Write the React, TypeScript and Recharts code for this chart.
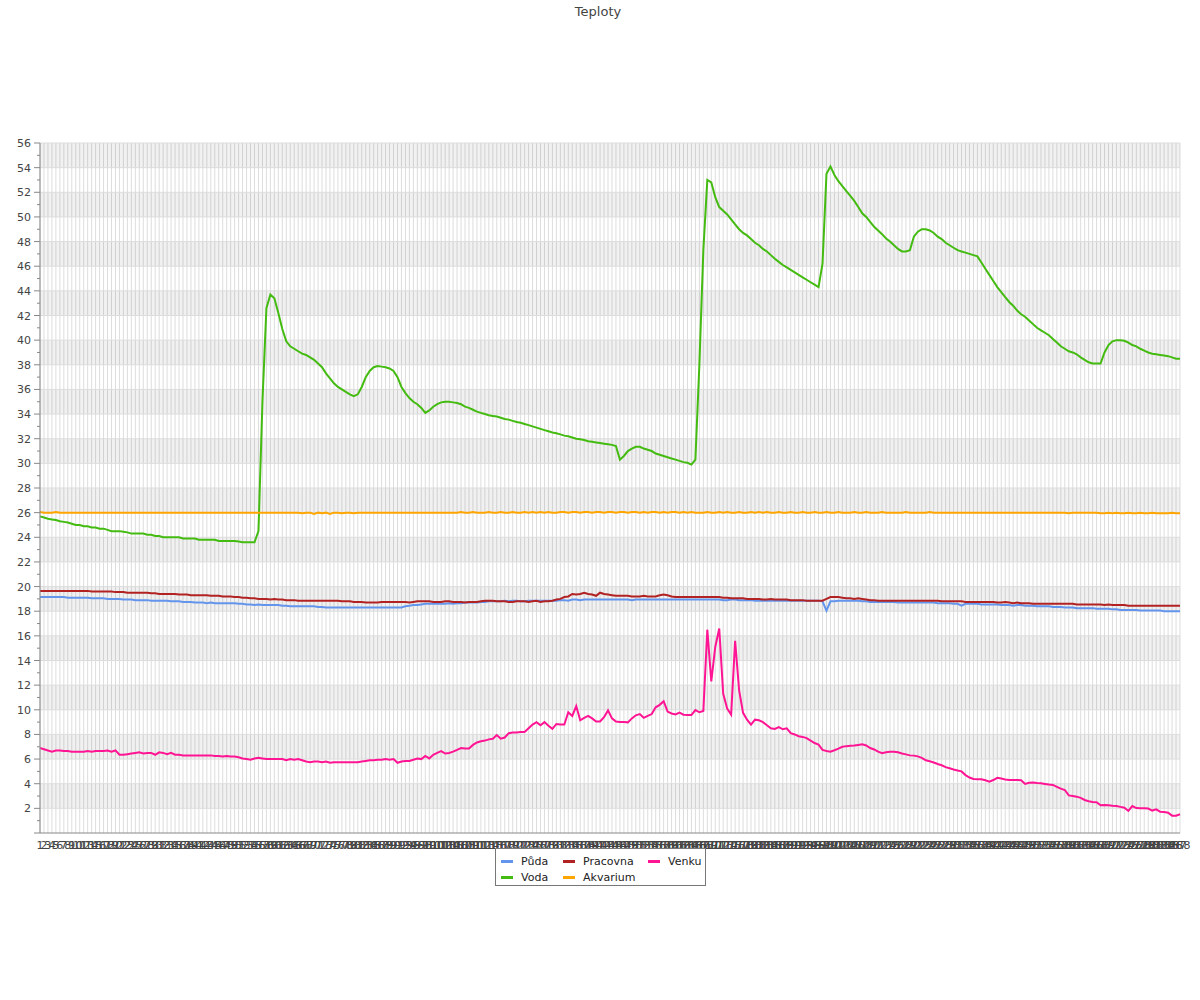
import React from 'react';
import { LineChart, Line, XAxis, YAxis, CartesianGrid, ReferenceArea, ReferenceLine } from 'recharts';

// 288 measurements (every 5 minutes of one day)
const categories: string[] = Array.from({ length: 288 }, (_, i) => String(i + 1));

const puda: number[] = [
  19.15, 19.15, 19.15, 19.15, 19.15, 19.15, 19.15, 19.1, 19.1, 19.1, 19.1, 19.1,
  19.1, 19.05, 19.05, 19.05, 19.05, 19.0, 19.0, 19.0, 19.0, 18.95, 18.95, 18.95,
  18.9, 18.9, 18.9, 18.9, 18.85, 18.85, 18.85, 18.85, 18.85, 18.8, 18.8, 18.8,
  18.75, 18.75, 18.75, 18.7, 18.7, 18.7, 18.65, 18.7, 18.65, 18.65, 18.65, 18.65,
  18.65, 18.65, 18.6, 18.6, 18.55, 18.55, 18.5, 18.55, 18.5, 18.5, 18.5, 18.5,
  18.5, 18.45, 18.45, 18.4, 18.4, 18.4, 18.4, 18.4, 18.4, 18.4, 18.35, 18.35,
  18.3, 18.3, 18.3, 18.3, 18.3, 18.3, 18.3, 18.3, 18.3, 18.3, 18.3, 18.3,
  18.3, 18.3, 18.3, 18.3, 18.3, 18.3, 18.3, 18.3, 18.4, 18.45, 18.5, 18.5,
  18.55, 18.6, 18.6, 18.6, 18.6, 18.6, 18.6, 18.65, 18.6, 18.65, 18.65, 18.7,
  18.7, 18.7, 18.7, 18.75, 18.75, 18.8, 18.8, 18.8, 18.8, 18.85, 18.8, 18.85,
  18.85, 18.8, 18.8, 18.85, 18.85, 18.85, 18.85, 18.85, 18.85, 18.85, 18.85, 18.9,
  18.9, 18.85, 18.95, 18.95, 18.9, 18.95, 18.95, 18.95, 18.95, 18.95, 18.95, 18.95,
  18.95, 18.95, 18.95, 18.95, 18.95, 18.9, 18.95, 18.95, 18.95, 18.95, 18.95, 18.95,
  18.95, 18.95, 18.95, 18.95, 18.95, 18.95, 18.95, 18.95, 18.95, 18.95, 18.95, 18.95,
  18.95, 18.95, 18.95, 18.95, 18.9, 18.9, 18.95, 18.95, 18.9, 18.9, 18.9, 18.9,
  18.85, 18.85, 18.85, 18.85, 18.85, 18.85, 18.85, 18.85, 18.85, 18.85, 18.85, 18.85,
  18.85, 18.85, 18.85, 18.85, 18.85, 18.8, 18.05, 18.8, 18.8, 18.85, 18.85, 18.85,
  18.85, 18.85, 18.85, 18.8, 18.8, 18.75, 18.75, 18.75, 18.75, 18.75, 18.75, 18.75,
  18.7, 18.7, 18.7, 18.7, 18.7, 18.7, 18.7, 18.7, 18.7, 18.7, 18.65, 18.65,
  18.65, 18.65, 18.6, 18.6, 18.45, 18.6, 18.6, 18.6, 18.6, 18.55, 18.55, 18.55,
  18.55, 18.55, 18.5, 18.5, 18.5, 18.45, 18.5, 18.5, 18.45, 18.45, 18.45, 18.4,
  18.4, 18.4, 18.4, 18.35, 18.35, 18.35, 18.3, 18.3, 18.3, 18.25, 18.25, 18.25,
  18.25, 18.25, 18.2, 18.2, 18.2, 18.2, 18.15, 18.15, 18.1, 18.1, 18.1, 18.1,
  18.1, 18.05, 18.05, 18.05, 18.05, 18.05, 18.05, 18.0, 18.0, 18.0, 18.0, 18.0,
];

const voda: number[] = [
  25.7, 25.6, 25.5, 25.45, 25.4, 25.3, 25.25, 25.2, 25.1, 25.0, 25.0, 24.9,
  24.9, 24.8, 24.8, 24.7, 24.7, 24.6, 24.5, 24.5, 24.5, 24.45, 24.4, 24.3,
  24.3, 24.3, 24.3, 24.2, 24.2, 24.1, 24.1, 24.0, 24.0, 24.0, 24.0, 24.0,
  23.9, 23.9, 23.9, 23.9, 23.8, 23.8, 23.8, 23.8, 23.8, 23.7, 23.7, 23.7,
  23.7, 23.7, 23.65, 23.6, 23.6, 23.6, 23.6, 24.5, 35.0, 42.6, 43.7, 43.4,
  42.2, 40.9, 39.9, 39.5, 39.3, 39.1, 38.9, 38.8, 38.6, 38.4, 38.1, 37.8,
  37.3, 36.9, 36.5, 36.2, 36.0, 35.8, 35.6, 35.45, 35.6, 36.2, 37.0, 37.5,
  37.8, 37.9, 37.85, 37.8, 37.7, 37.5, 37.0, 36.2, 35.7, 35.3, 35.0, 34.8,
  34.5, 34.1, 34.3, 34.6, 34.8, 34.95, 35.0, 35.0, 34.95, 34.9, 34.8, 34.6,
  34.5, 34.35, 34.2, 34.1, 34.0, 33.9, 33.85, 33.8, 33.7, 33.6, 33.55, 33.45,
  33.35, 33.3, 33.2, 33.1, 33.0, 32.9, 32.8, 32.7, 32.6, 32.5, 32.45, 32.35,
  32.25, 32.2, 32.1, 32.0, 31.95, 31.9, 31.8, 31.75, 31.7, 31.65, 31.6, 31.55,
  31.5, 31.4, 30.3, 30.6, 31.0, 31.2, 31.35, 31.35, 31.2, 31.1, 31.0, 30.8,
  30.7, 30.6, 30.5, 30.4, 30.3, 30.2, 30.1, 30.05, 29.9, 30.3, 38.0, 47.3,
  53.0, 52.8, 51.6, 50.8, 50.5, 50.2, 49.8, 49.4, 49.0, 48.7, 48.5, 48.2,
  47.9, 47.7, 47.4, 47.2, 46.9, 46.6, 46.35, 46.1, 45.9, 45.7, 45.5, 45.3,
  45.1, 44.9, 44.7, 44.5, 44.3, 46.2, 53.5, 54.1, 53.4, 52.9, 52.5, 52.1,
  51.7, 51.3, 50.8, 50.3, 50.0, 49.6, 49.2, 48.9, 48.6, 48.25, 48.0, 47.7,
  47.4, 47.2, 47.2, 47.3, 48.4, 48.8, 49.0, 49.0, 48.9, 48.7, 48.4, 48.2,
  47.9, 47.7, 47.5, 47.3, 47.2, 47.1, 47.0, 46.9, 46.8, 46.3, 45.8, 45.3,
  44.8, 44.3, 43.9, 43.5, 43.1, 42.8, 42.4, 42.1, 41.9, 41.6, 41.3, 41.0,
  40.8, 40.6, 40.4, 40.1, 39.8, 39.5, 39.3, 39.1, 39.0, 38.85, 38.6, 38.4,
  38.2, 38.1, 38.1, 38.1, 39.0, 39.6, 39.9, 40.0, 40.0, 39.95, 39.8, 39.6,
  39.5, 39.3, 39.15, 39.0, 38.9, 38.85, 38.8, 38.75, 38.7, 38.6, 38.5, 38.5,
];

const pracovna: number[] = [
  19.65, 19.65, 19.65, 19.65, 19.65, 19.65, 19.65, 19.65, 19.65, 19.65, 19.65, 19.65,
  19.65, 19.6, 19.6, 19.6, 19.6, 19.6, 19.6, 19.55, 19.55, 19.55, 19.5, 19.5,
  19.5, 19.5, 19.5, 19.5, 19.45, 19.45, 19.4, 19.4, 19.4, 19.4, 19.4, 19.35,
  19.35, 19.35, 19.3, 19.3, 19.3, 19.3, 19.3, 19.25, 19.25, 19.25, 19.2, 19.2,
  19.2, 19.15, 19.15, 19.1, 19.1, 19.05, 19.05, 19.0, 19.0, 19.0, 18.95, 19.0,
  18.95, 18.95, 18.9, 18.9, 18.9, 18.85, 18.85, 18.85, 18.85, 18.85, 18.85, 18.85,
  18.85, 18.85, 18.85, 18.85, 18.8, 18.8, 18.8, 18.75, 18.75, 18.75, 18.7, 18.7,
  18.7, 18.7, 18.75, 18.75, 18.75, 18.75, 18.75, 18.75, 18.75, 18.7, 18.75, 18.8,
  18.8, 18.8, 18.8, 18.75, 18.75, 18.75, 18.8, 18.8, 18.75, 18.75, 18.75, 18.7,
  18.75, 18.75, 18.75, 18.8, 18.85, 18.85, 18.85, 18.8, 18.8, 18.8, 18.75, 18.75,
  18.8, 18.8, 18.8, 18.75, 18.8, 18.85, 18.75, 18.8, 18.8, 18.85, 18.95, 19.0,
  19.15, 19.2, 19.4, 19.35, 19.4, 19.5, 19.4, 19.35, 19.25, 19.5, 19.4, 19.35,
  19.3, 19.25, 19.25, 19.25, 19.25, 19.2, 19.2, 19.2, 19.25, 19.2, 19.2, 19.2,
  19.3, 19.35, 19.3, 19.2, 19.15, 19.15, 19.15, 19.15, 19.15, 19.15, 19.15, 19.15,
  19.15, 19.15, 19.15, 19.15, 19.1, 19.1, 19.05, 19.05, 19.05, 19.05, 19.0, 19.0,
  19.0, 19.0, 18.95, 18.95, 19.0, 18.95, 18.95, 18.95, 18.95, 18.9, 18.9, 18.9,
  18.9, 18.85, 18.85, 18.85, 18.85, 18.85, 19.0, 19.15, 19.15, 19.15, 19.1, 19.05,
  19.05, 19.0, 19.05, 19.0, 18.95, 18.9, 18.9, 18.85, 18.85, 18.85, 18.85, 18.85,
  18.85, 18.85, 18.85, 18.85, 18.85, 18.85, 18.85, 18.85, 18.85, 18.85, 18.85, 18.8,
  18.8, 18.8, 18.8, 18.8, 18.8, 18.75, 18.75, 18.75, 18.75, 18.75, 18.75, 18.75,
  18.75, 18.7, 18.7, 18.75, 18.7, 18.65, 18.7, 18.65, 18.65, 18.65, 18.6, 18.6,
  18.6, 18.6, 18.6, 18.6, 18.6, 18.6, 18.6, 18.6, 18.6, 18.55, 18.55, 18.55,
  18.55, 18.55, 18.55, 18.55, 18.5, 18.55, 18.5, 18.5, 18.5, 18.5, 18.45, 18.45,
  18.45, 18.45, 18.45, 18.45, 18.45, 18.45, 18.45, 18.45, 18.45, 18.45, 18.45, 18.45,
];

const akvarium: number[] = [
  26.05, 26.0, 26.0, 26.0, 26.05, 26.0, 26.0, 26.0, 26.0, 26.0, 26.0, 26.0,
  26.0, 26.0, 26.0, 26.0, 26.0, 26.0, 26.0, 26.0, 26.0, 26.0, 26.0, 26.0,
  26.0, 26.0, 26.0, 26.0, 26.0, 26.0, 26.0, 26.0, 26.0, 26.0, 26.0, 26.0,
  26.0, 26.0, 26.0, 26.0, 26.0, 26.0, 26.0, 26.0, 26.0, 26.0, 26.0, 26.0,
  26.0, 26.0, 26.0, 26.0, 26.0, 26.0, 26.0, 26.0, 26.0, 26.0, 26.0, 26.0,
  26.0, 26.0, 26.0, 26.0, 26.0, 26.0, 25.95, 26.0, 26.0, 25.9, 26.0, 25.95,
  26.0, 25.9, 26.0, 26.0, 25.95, 26.0, 26.0, 25.95, 26.0, 26.0, 26.0, 26.0,
  26.0, 26.0, 26.0, 26.0, 26.0, 26.0, 26.0, 26.0, 26.0, 26.0, 26.0, 26.0,
  26.0, 26.0, 26.0, 26.0, 26.0, 26.0, 26.0, 26.0, 26.0, 26.0, 26.05, 26.0,
  26.0, 26.05, 26.0, 26.0, 26.0, 26.05, 26.0, 26.0, 26.05, 26.0, 26.0, 26.05,
  26.0, 26.0, 26.05, 26.0, 26.05, 26.0, 26.05, 26.0, 26.05, 26.0, 26.0, 26.05,
  26.05, 26.0, 26.05, 26.05, 26.0, 26.05, 26.05, 26.0, 26.05, 26.05, 26.0, 26.05,
  26.05, 26.0, 26.05, 26.05, 26.0, 26.05, 26.05, 26.0, 26.05, 26.0, 26.05, 26.05,
  26.0, 26.05, 26.0, 26.05, 26.05, 26.0, 26.05, 26.0, 26.05, 26.0, 26.0, 26.0,
  26.05, 26.0, 26.0, 26.05, 26.0, 26.05, 26.0, 26.0, 26.05, 26.0, 26.0, 26.05,
  26.0, 26.05, 26.0, 26.05, 26.0, 26.0, 26.05, 26.0, 26.0, 26.05, 26.0, 26.0,
  26.05, 26.0, 26.0, 26.05, 26.0, 26.0, 26.05, 26.0, 26.0, 26.05, 26.0, 26.0,
  26.0, 26.05, 26.0, 26.0, 26.05, 26.0, 26.0, 26.0, 26.05, 26.0, 26.0, 26.0,
  26.0, 26.0, 26.05, 26.0, 26.0, 26.0, 26.0, 26.0, 26.05, 26.0, 26.0, 26.0,
  26.0, 26.0, 26.0, 26.0, 26.0, 26.0, 26.0, 26.0, 26.0, 26.0, 26.0, 26.0,
  26.0, 26.0, 26.0, 26.0, 26.0, 26.0, 26.0, 26.0, 26.0, 26.0, 26.0, 26.0,
  26.0, 26.0, 26.0, 26.0, 26.0, 26.0, 26.0, 25.95, 26.0, 26.0, 26.0, 26.0,
  26.0, 26.0, 26.0, 25.95, 25.95, 26.0, 25.95, 26.0, 25.95, 25.95, 26.0, 25.95,
  25.95, 26.0, 25.95, 25.95, 26.0, 25.95, 25.95, 25.95, 25.95, 26.0, 25.95, 25.95,
];

const venku: number[] = [
  6.9, 6.8, 6.7, 6.6, 6.7, 6.7, 6.65, 6.65, 6.6, 6.6, 6.6, 6.6,
  6.65, 6.6, 6.65, 6.65, 6.65, 6.7, 6.6, 6.7, 6.35, 6.35, 6.4, 6.45,
  6.5, 6.55, 6.45, 6.5, 6.5, 6.35, 6.55, 6.5, 6.4, 6.5, 6.35, 6.35,
  6.3, 6.3, 6.3, 6.3, 6.3, 6.3, 6.3, 6.3, 6.25, 6.25, 6.2, 6.25,
  6.2, 6.2, 6.15, 6.05, 6.0, 5.95, 6.05, 6.1, 6.05, 6.0, 6.0, 6.0,
  6.0, 6.0, 5.9, 6.0, 5.95, 6.0, 5.9, 5.8, 5.75, 5.8, 5.8, 5.75,
  5.8, 5.7, 5.75, 5.75, 5.75, 5.75, 5.75, 5.75, 5.75, 5.8, 5.85, 5.9,
  5.9, 5.95, 5.95, 6.0, 5.95, 6.0, 5.7, 5.8, 5.85, 5.85, 5.95, 6.05,
  6.0, 6.25, 6.05, 6.35, 6.5, 6.65, 6.45, 6.5, 6.6, 6.75, 6.9, 6.85,
  6.85, 7.15, 7.35, 7.45, 7.5, 7.6, 7.65, 7.95, 7.65, 7.75, 8.1, 8.15,
  8.15, 8.2, 8.2, 8.5, 8.8, 9.0, 8.75, 9.0, 8.7, 8.45, 8.85, 8.8,
  8.8, 9.8, 9.5, 10.3, 9.15, 9.35, 9.5, 9.3, 9.05, 9.05, 9.4, 9.95,
  9.3, 9.05, 9.0, 9.0, 8.98, 9.3, 9.55, 9.65, 9.35, 9.5, 9.65, 10.2,
  10.4, 10.7, 9.85, 9.7, 9.62, 9.77, 9.6, 9.58, 9.58, 9.98, 9.8, 9.9,
  16.5, 12.3, 15.1, 16.6, 11.3, 10.1, 9.6, 15.6, 11.6, 9.75, 9.2, 8.8,
  9.2, 9.15, 9.0, 8.75, 8.5, 8.45, 8.6, 8.42, 8.5, 8.1, 8.0, 7.85,
  7.8, 7.7, 7.5, 7.3, 7.18, 6.75, 6.65, 6.6, 6.72, 6.85, 7.0, 7.05,
  7.08, 7.1, 7.15, 7.2, 7.1, 6.9, 6.78, 6.6, 6.47, 6.55, 6.6, 6.6,
  6.55, 6.45, 6.38, 6.3, 6.28, 6.22, 6.1, 5.9, 5.82, 5.72, 5.6, 5.5,
  5.35, 5.25, 5.15, 5.08, 5.0, 4.7, 4.5, 4.38, 4.37, 4.36, 4.28, 4.17,
  4.3, 4.48, 4.42, 4.35, 4.3, 4.3, 4.3, 4.28, 3.98, 4.08, 4.1, 4.06,
  4.03, 3.98, 3.93, 3.9, 3.75, 3.6, 3.49, 3.05, 3.0, 2.95, 2.85, 2.68,
  2.58, 2.52, 2.49, 2.25, 2.27, 2.26, 2.22, 2.19, 2.12, 2.05, 1.79, 2.19,
  2.02, 2.0, 2.0, 1.98, 1.82, 1.92, 1.73, 1.7, 1.65, 1.41, 1.41, 1.52,
];

const yTicks: number[] = [
  0, 1, 2, 3, 4, 5, 6, 7, 8, 9, 10, 11, 12, 13, 14, 15, 16, 17, 18, 19, 20, 21, 22, 23, 24, 25, 26, 27, 28,
  29, 30, 31, 32, 33, 34, 35, 36, 37, 38, 39, 40, 41, 42, 43, 44, 45, 46, 47, 48, 49, 50, 51, 52, 53, 54, 55, 56,
];
const gridValues: number[] = [2, 4, 6, 8, 10, 12, 14, 16, 18, 20, 22, 24, 26, 28, 30, 32, 34, 36, 38, 40, 42, 44, 46, 48, 50, 52, 54, 56];
const bands: [number, number][] = [
  [2, 4], [6, 8], [10, 12], [14, 16], [18, 20], [22, 24], [26, 28], [30, 32], [34, 36], [38, 40], [42, 44], [46, 48], [50, 52], [54, 56],
];

const series = [
  { key: 'puda', name: 'Půda', color: '#6495ed' },
  { key: 'pracovna', name: 'Pracovna', color: '#b22222' },
  { key: 'venku', name: 'Venku', color: '#ff1493' },
  { key: 'voda', name: 'Voda', color: '#44bb11' },
  { key: 'akvarium', name: 'Akvarium', color: '#ffa500' },
];

const data = categories.map((c, i) => ({
  name: c,
  puda: puda[i],
  voda: voda[i],
  pracovna: pracovna[i],
  akvarium: akvarium[i],
  venku: venku[i],
}));

const font = '"DejaVu Sans", Verdana, sans-serif';

function YTick(props: any) {
  const { x, y, payload } = props;
  const v = payload.value as number;
  const major = v % 2 === 0;
  return (
    <g>
      <line x1={x - (major ? 6 : 3)} x2={x} y1={y} y2={y} stroke="#888" />
      {major && v !== 0 && (
        <text x={x - 9} y={y} dy={4} textAnchor="end" fontSize={11} fill="#444" fontFamily={font}>
          {v}
        </text>
      )}
    </g>
  );
}

export default function App() {
  return (
    <div style={{ position: 'absolute', top: 0, left: 0, width: 1200, height: 1000, fontFamily: font }}>
      <LineChart width={1200} height={1000} data={data} margin={{ top: 143, right: 20, bottom: 137, left: 0 }}>
        <text x={598} y={16} textAnchor="middle" fontSize={13} fill="#444" fontFamily={font}>
          Teploty
        </text>
        {bands.map(([a, b]) => (
          <ReferenceArea key={a} y1={a} y2={b} fill="#000" fillOpacity={0.055} stroke="none" ifOverflow="visible" />
        ))}
        <CartesianGrid vertical horizontal={false} stroke="#dddddd" strokeWidth={1} />
        {gridValues.map((v) => (
          <ReferenceLine key={v} y={v} stroke="#dddddd" strokeWidth={1} />
        ))}
        <XAxis
          dataKey="name"
          interval={0}
          height={30}
          tickLine={false}
          tick={{ fontSize: 11, fill: '#444', fontFamily: font }}
          axisLine={{ stroke: '#888' }}
        />
        <YAxis
          type="number"
          domain={[0, 56]}
          ticks={yTicks}
          interval={0}
          width={40}
          tickSize={0}
          tickMargin={0}
          tickLine={false}
          tick={<YTick />}
          axisLine={{ stroke: '#888' }}
        />
        {series.map((s) => (
          <Line
            key={s.key}
            type="linear"
            dataKey={s.key}
            name={s.name}
            stroke={s.color}
            strokeWidth={2}
            dot={false}
            isAnimationActive={false}
          />
        ))}
      </LineChart>
      <div
        style={{
          position: 'absolute',
          zIndex: 2,
          left: 495,
          top: 848,
          width: 211,
          height: 38,
          border: '1px solid #777',
          display: 'grid',
          gridTemplateColumns: '62px 85px 60px',
          gridAutoRows: '16px',
          padding: '4px 0 0 5px',
          boxSizing: 'border-box',
          fontSize: 11,
          color: '#222',
          background: '#fff',
        }}
      >
        {series.map((s) => (
          <div key={s.key} style={{ display: 'flex', alignItems: 'center', whiteSpace: 'nowrap' }}>
            <span style={{ display: 'inline-block', width: 12, height: 3, background: s.color, marginRight: 8 }} />
            {s.name}
          </div>
        ))}
      </div>
    </div>
  );
}
